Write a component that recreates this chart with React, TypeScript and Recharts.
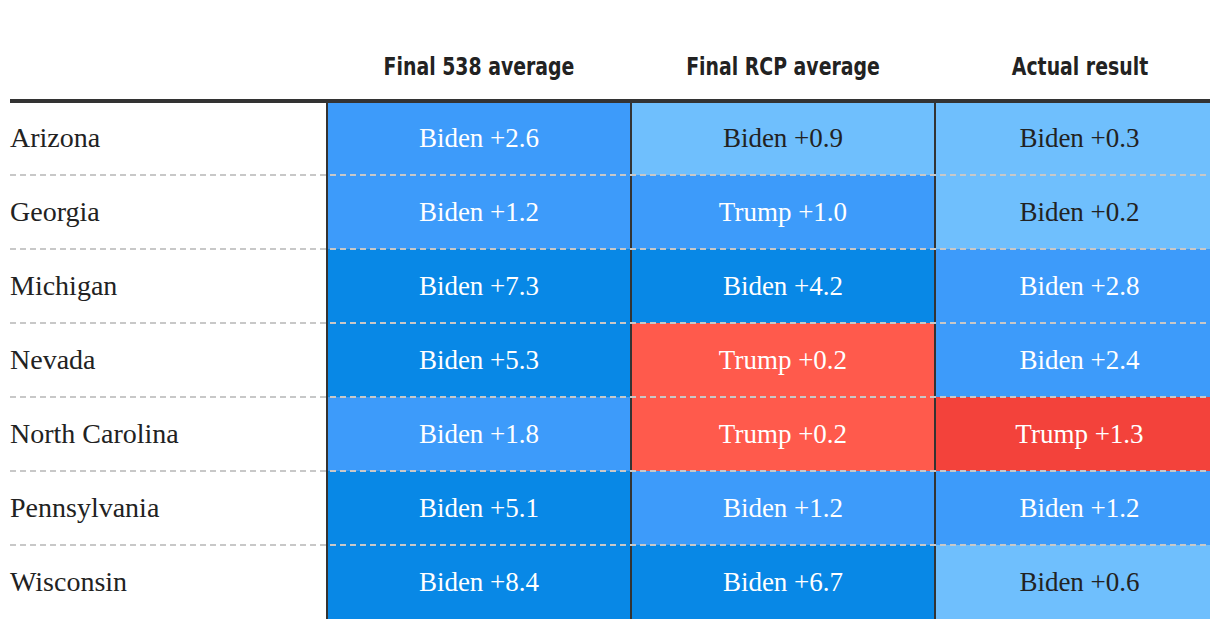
import { BarChart, Bar, XAxis, YAxis, Cell, LabelList, ReferenceLine } from 'recharts';

const states = ['Arizona', 'Georgia', 'Michigan', 'Nevada', 'North Carolina', 'Pennsylvania', 'Wisconsin'];
const columns = ['Final 538 average', 'Final RCP average', 'Actual result'];

// margins: positive = Biden lead, negative = Trump lead
const final538 = [2.6, 1.2, 7.3, 5.3, 1.8, 5.1, 8.4];
const finalRcp = [0.9, -1.0, 4.2, -0.2, -0.2, 1.2, 6.7];
const actual = [0.3, 0.2, 2.8, 2.4, -1.3, 1.2, 0.6];

// shade of each cell as drawn in the original
const shade538 = ['mid', 'mid', 'dark', 'dark', 'mid', 'dark', 'dark'];
const shadeRcp = ['light', 'mid', 'dark', 'red', 'red', 'mid', 'dark'];
const shadeActual = ['light', 'light', 'mid', 'mid', 'darkRed', 'mid', 'light'];

const margins = [final538, finalRcp, actual];
const shades = [shade538, shadeRcp, shadeActual];

const palette: Record<string, string> = {
  dark: '#0888e6',
  mid: '#3d9bfa',
  light: '#6fbffd',
  red: '#ff5a4c',
  darkRed: '#f3423b',
};

const WIDTH = 1220;
const HEIGHT = 628;
const LEFT = 10;
const RIGHT = 1210;
const TOP = 101;
const BOTTOM = 619;
const ROW = (BOTTOM - TOP) / states.length;

const serif = "'Liberation Serif', 'Times New Roman', serif";
const condensed = "'DejaVu Sans Condensed', 'DejaVu Sans', sans-serif";

const fmt = (m: number) => (m >= 0 ? `Biden +${m.toFixed(1)}` : `Trump +${(-m).toFixed(1)}`);

const data = states.map((state) => ({ state, c0: 1, c1: 1, c2: 1 }));

const StateTick = (props: any) => {
  const { y, payload, index } = props;
  return (
    <g>
      {index === 0 && (
        <line x1={LEFT} x2={RIGHT} y1={y - ROW / 2} y2={y - ROW / 2} stroke="#333" strokeWidth={4} />
      )}
      {index < states.length - 1 && (
        <line
          x1={LEFT}
          x2={RIGHT}
          y1={y + ROW / 2}
          y2={y + ROW / 2}
          stroke="#c8c8c8"
          strokeWidth={2}
          strokeDasharray="6 4"
        />
      )}
      <text x={LEFT} y={y + 9} fontFamily={serif} fontSize={28} fill="#222" textAnchor="start">
        {payload.value}
      </text>
    </g>
  );
};

const HeaderTick = (props: any) => {
  const { x, payload } = props;
  const i = Math.floor(payload.value);
  const cx = i === 2 ? x - 7 : x;
  return (
    <g transform={`translate(${cx},75) scale(0.84,1)`}>
      <text x={0} y={0} fontFamily={condensed} fontWeight="bold" fontSize={25} fill="#222" textAnchor="middle">
        {columns[i]}
      </text>
    </g>
  );
};

const cellLabel = (col: number) => (props: any) => {
  const { x, y, width, height, index } = props;
  const shade = shades[col][index];
  return (
    <text
      x={x + width / 2 + (col === 2 ? 7 : 0)}
      y={y + height / 2 + 9}
      fontFamily={serif}
      fontSize={27}
      fill={shade === 'light' ? '#222' : '#fff'}
      textAnchor="middle"
    >
      {fmt(margins[col][index])}
    </text>
  );
};

export default function App() {
  const span = (RIGHT - 327) / 304;
  return (
    <div style={{ position: 'absolute', left: 0, top: 0, width: WIDTH, height: HEIGHT, background: '#fff' }}>
      <BarChart
        width={WIDTH}
        height={HEIGHT}
        data={data}
        layout="vertical"
        barCategoryGap={0}
        margin={{ top: TOP - 60, right: WIDTH - RIGHT, bottom: HEIGHT - BOTTOM, left: LEFT }}
      >
        <XAxis
          type="number"
          orientation="top"
          height={60}
          domain={[0, span]}
          allowDataOverflow
          ticks={[0.5, 1.5, 2.5]}
          tick={<HeaderTick />}
          tickLine={false}
          axisLine={false}
        />
        {[0, 1, 2].map((col) => (
          <Bar key={col} dataKey={`c${col}`} stackId="a" isAnimationActive={false}>
            {data.map((_, i) => (
              <Cell key={i} fill={palette[shades[col][i]]} />
            ))}
            <LabelList content={cellLabel(col)} />
          </Bar>
        ))}
        <ReferenceLine x={0} stroke="#333" strokeWidth={2} />
        <ReferenceLine x={1} stroke="#333" strokeWidth={2} />
        <ReferenceLine x={2} stroke="#333" strokeWidth={2} />
        <YAxis
          type="category"
          dataKey="state"
          width={327 - LEFT}
          tick={<StateTick />}
          tickLine={false}
          axisLine={false}
          interval={0}
        />
      </BarChart>
    </div>
  );
}
